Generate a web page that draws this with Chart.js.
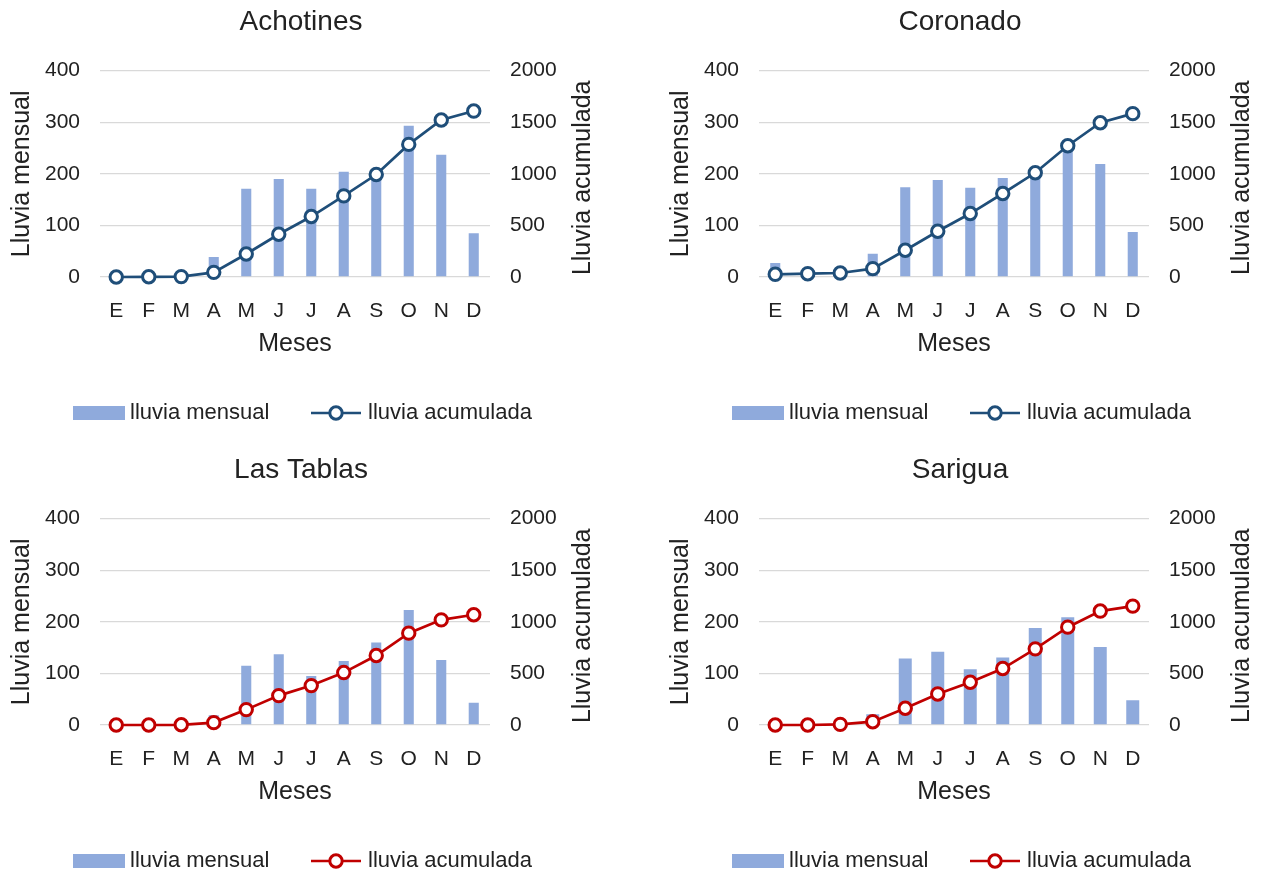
<!DOCTYPE html>
<html>
<head>
<meta charset="utf-8">
<title>Lluvia mensual y acumulada</title>
<script src="https://cdn.jsdelivr.net/npm/chart.js"></script>
<style>
  html, body { margin: 0; padding: 0; background: #fff; overflow: hidden; }
  .panel { position: absolute; width: 602px; height: 448px; }
</style>
</head>
<body>
<div class="panel" style="left:0;top:0"><canvas id="c1"></canvas></div>
<div class="panel" style="left:659px;top:0"><canvas id="c2"></canvas></div>
<div class="panel" style="left:0;top:448px"><canvas id="c3"></canvas></div>
<div class="panel" style="left:659px;top:448px"><canvas id="c4"></canvas></div>
<script>
// Datos
const meses = ['E', 'F', 'M', 'A', 'M', 'J', 'J', 'A', 'S', 'O', 'N', 'D'];
const ticksMensual = [0, 100, 200, 300, 400];
const ticksAcumulada = [0, 500, 1000, 1500, 2000];

const achotinesMensual = [0, 0, 0, 39, 171, 190, 171, 204, 203, 293, 237, 85];
const achotinesAcumulada = [0, 2, 4, 45, 223, 414, 586, 786, 993, 1285, 1521, 1608];

const coronadoMensual = [27, 6, 7, 45, 174, 188, 173, 192, 200, 255, 219, 87];
const coronadoAcumulada = [26, 32, 39, 81, 259, 443, 615, 809, 1010, 1272, 1495, 1583];

const tablasMensual = [0, 0, 0, 19, 115, 137, 95, 124, 160, 223, 126, 43];
const tablasAcumulada = [0, 0, 2, 23, 149, 285, 382, 508, 673, 890, 1019, 1068];

const sariguaMensual = [0, 0, 3, 21, 129, 142, 108, 131, 188, 209, 151, 48];
const sariguaAcumulada = [0, 0, 6, 32, 162, 301, 414, 547, 738, 948, 1104, 1152];

const FUENTE = "'Liberation Sans', Arial, sans-serif";
const TEXTO = '#222222';
const AZUL_BARRA = '#8FAADC';
const GRIS = '#D9D9D9';

// Titulo del eje derecho (leido de abajo hacia arriba) y leyenda tipo Excel
const extras = {
  id: 'extras',
  afterDraw(chart) {
    const ctx = chart.ctx;
    const area = chart.chartArea;
    ctx.save();
    ctx.fillStyle = TEXTO;
    ctx.font = '25px ' + FUENTE;
    ctx.textAlign = 'center';
    ctx.textBaseline = 'middle';
    ctx.translate(583, (area.top + area.bottom) / 2 + 4);
    ctx.rotate(-Math.PI / 2);
    ctx.fillText(chart.options.tituloDerecho, 0, 0);
    ctx.restore();

    const barra = chart.data.datasets[0];
    const linea = chart.data.datasets[1];
    const y = 413;
    ctx.save();
    ctx.font = '22px ' + FUENTE;
    ctx.textBaseline = 'middle';
    ctx.textAlign = 'left';
    ctx.fillStyle = barra.backgroundColor;
    ctx.fillRect(73, y - 7, 52, 14);
    ctx.fillStyle = TEXTO;
    ctx.fillText(barra.label, 130, y);

    ctx.strokeStyle = linea.borderColor;
    ctx.lineWidth = 2.7;
    ctx.beginPath();
    ctx.moveTo(311, y);
    ctx.lineTo(361, y);
    ctx.stroke();
    ctx.beginPath();
    ctx.arc(336, y, 6.2, 0, Math.PI * 2);
    ctx.fillStyle = '#fff';
    ctx.fill();
    ctx.lineWidth = 3;
    ctx.stroke();
    ctx.fillStyle = TEXTO;
    ctx.fillText(linea.label, 368, y);
    ctx.restore();
  }
};

function crearGrafico(id, titulo, mensual, acumulada, colorLinea, anchoBarra) {
  return new Chart(document.getElementById(id), {
    type: 'bar',
    data: {
      labels: meses,
      datasets: [
        {
          type: 'bar',
          label: 'lluvia mensual',
          data: mensual,
          yAxisID: 'y',
          backgroundColor: AZUL_BARRA,
          categoryPercentage: 1,
          barPercentage: anchoBarra,
          order: 1
        },
        {
          type: 'line',
          label: 'lluvia acumulada',
          data: acumulada,
          yAxisID: 'y2',
          borderColor: colorLinea,
          borderWidth: 2.7,
          pointRadius: 6.2,
          pointBorderWidth: 3,
          pointBackgroundColor: '#fff',
          pointBorderColor: colorLinea,
          tension: 0,
          clip: false,
          order: 0
        }
      ]
    },
    options: {
      responsive: true,
      maintainAspectRatio: false,
      animation: false,
      tituloDerecho: 'Lluvia acumulada',
      layout: { padding: { left: 0, right: 0, top: 0, bottom: 81 } },
      plugins: {
        legend: { display: false },
        tooltip: { enabled: false },
        title: {
          display: true,
          text: titulo,
          color: TEXTO,
          font: { family: FUENTE, size: 28, weight: 'normal' },
          padding: { top: 5, bottom: 32 }
        }
      },
      scales: {
        x: {
          offset: true,
          grid: { display: false },
          border: { display: false },
          ticks: { color: TEXTO, font: { family: FUENTE, size: 21 }, padding: 14 },
          title: {
            display: true,
            text: 'Meses',
            color: TEXTO,
            font: { family: FUENTE, size: 25 },
            padding: { top: 0, bottom: 8 }
          },
          afterFit: (s) => { s.height = 90; }
        },
        y: {
          position: 'left',
          min: 0,
          max: 400,
          afterBuildTicks: (s) => { s.ticks = ticksMensual.map(v => ({ value: v })); },
          grid: { color: GRIS, lineWidth: 1.3, drawTicks: false },
          border: { display: false },
          ticks: { color: TEXTO, font: { family: FUENTE, size: 21 }, padding: 20, callback: (v) => String(v) },
          title: {
            display: true,
            text: 'Lluvia mensual',
            color: TEXTO,
            font: { family: FUENTE, size: 25 },
            padding: { top: 7, bottom: 0 }
          },
          afterFit: (s) => { s.width = 100; }
        },
        y2: {
          position: 'right',
          min: 0,
          max: 2000,
          afterBuildTicks: (s) => { s.ticks = ticksAcumulada.map(v => ({ value: v })); },
          grid: { display: false, drawTicks: false },
          border: { display: false },
          ticks: { color: TEXTO, font: { family: FUENTE, size: 21 }, padding: 20, callback: (v) => String(v) },
          afterFit: (s) => { s.width = 112; }
        }
      }
    },
    plugins: [extras]
  });
}

crearGrafico('c1', 'Achotines', achotinesMensual, achotinesAcumulada, '#1F4E79', 0.31);
crearGrafico('c2', 'Coronado', coronadoMensual, coronadoAcumulada, '#1F4E79', 0.31);
crearGrafico('c3', 'Las Tablas', tablasMensual, tablasAcumulada, '#C00000', 0.31);
crearGrafico('c4', 'Sarigua', sariguaMensual, sariguaAcumulada, '#C00000', 0.4);
</script>
</body>
</html>
